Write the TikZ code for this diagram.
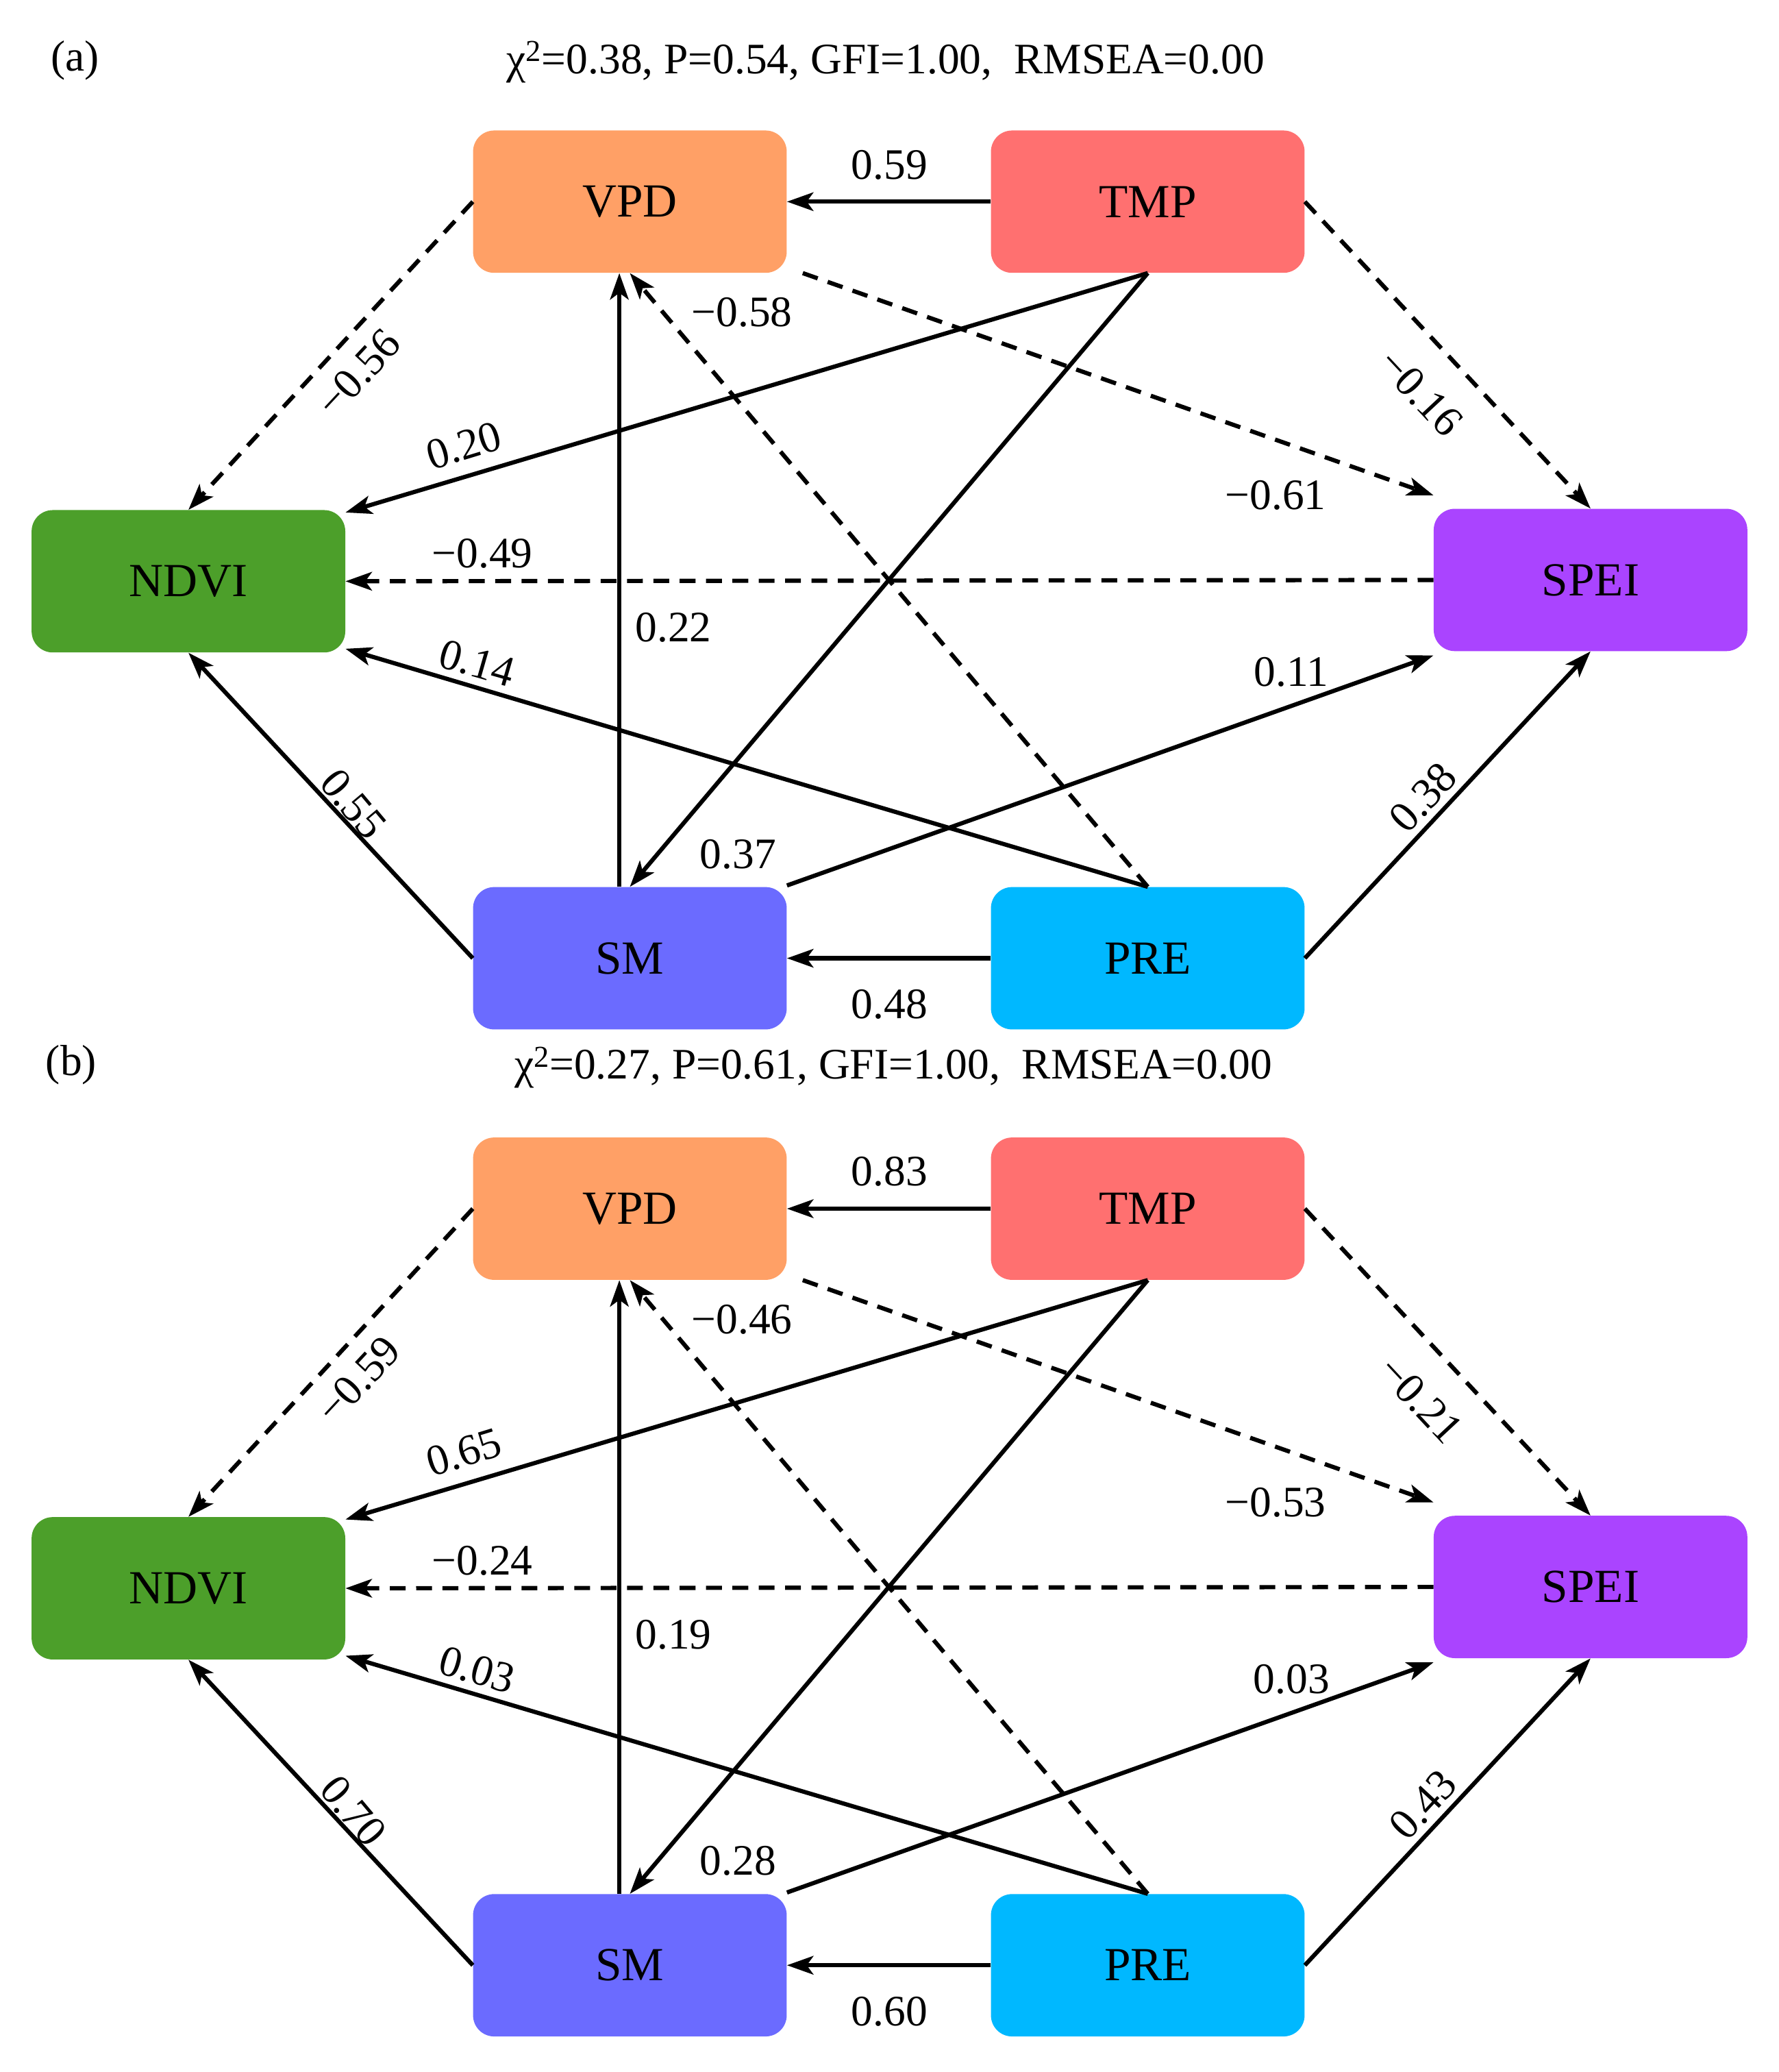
\documentclass[tikz,border=0pt]{standalone}
\usepackage{fontspec}
\setmainfont{Liberation Serif}
\usetikzlibrary{arrows.meta}
\definecolor{cvpd}{HTML}{FFA066}
\definecolor{ctmp}{HTML}{FF7070}
\definecolor{cndvi}{HTML}{4C9F2A}
\definecolor{cspei}{HTML}{AA44FF}
\definecolor{csm}{HTML}{6B6BFF}
\definecolor{cpre}{HTML}{00B8FF}
\tikzset{
  box/.style={rounded corners=16pt,minimum width=238pt,minimum height=108pt,inner sep=0pt,font=\fontsize{36}{40}\selectfont},
  arr/.style={line width=3.2pt,-{Stealth[length=20pt,width=14pt,inset=5pt]}},
  dsh/.style={arr,dash pattern=on 12pt off 8pt},
  lab/.style={font=\fontsize{33}{36}\selectfont,inner sep=1pt},
  ttl/.style={font=\fontsize{33}{36}\selectfont}
}
\newcommand\mypanel[2]{%
\begin{scope}[yshift=-#1pt]
\node[box,fill=cvpd] (#2vpd) at (478,-153) {VPD};
\node[box,fill=ctmp] (#2tmp) at (871,-153) {TMP};
\node[box,fill=cndvi] (#2ndvi) at (143,-441) {NDVI};
\node[box,fill=cspei] (#2spei) at (1207,-440) {SPEI};
\node[box,fill=csm] (#2sm) at (478,-727) {SM};
\node[box,fill=cpre] (#2pre) at (871,-727) {PRE};
\draw[arr] (#2tmp.west) -- (#2vpd.east);
\draw[dsh] (#2tmp.east) -- (#2spei.north);
\draw[dsh] (#2vpd.west) -- (#2ndvi.north);
\draw[dsh] ([xshift=12pt]#2vpd.south east) -- ([yshift=10pt]#2spei.north west);
\draw[arr] (#2tmp.south) -- ([yshift=-2pt]#2ndvi.north east);
\draw[arr] (#2tmp.south) -- (#2sm.north);
\draw[arr] ([xshift=-8pt]#2sm.north) -- ([xshift=-8pt]#2vpd.south);
\draw[dsh] (#2pre.north) -- (#2vpd.south);
\draw[dsh] (#2spei.west) -- (#2ndvi.east);
\draw[arr] (#2pre.north) -- ([yshift=3pt]#2ndvi.south east);
\draw[arr] ([yshift=1pt]#2sm.north east) -- ([yshift=-3pt]#2spei.south west);
\draw[arr] (#2sm.west) -- (#2ndvi.south);
\draw[arr] (#2pre.west) -- (#2sm.east);
\draw[arr] (#2pre.east) -- (#2spei.south);
\node[lab] (#2l1) at (675,-125) {\lA};
\node[lab,rotate=-47] (#2l2) at (1078,-298) {\lB};
\node[lab,rotate=47] (#2l3) at (272,-283) {\lC};
\node[lab] (#2l4) at (968,-376) {\lD};
\node[lab,rotate=17] (#2l5) at (352,-338) {\lE};
\node[lab] (#2l6) at (560,-648) {\lF};
\node[lab] (#2l7) at (511,-476) {\lG};
\node[lab] (#2l8) at (563,-237) {\lH};
\node[lab] (#2l9) at (366,-420) {\lI};
\node[lab,rotate=-16] (#2l10) at (362,-503) {\lJ};
\node[lab] (#2l11) at (980,-510) {\lK};
\node[lab,rotate=-50] (#2l12) at (268,-610) {\lL};
\node[lab] (#2l13) at (675,-762) {\lM};
\node[lab,rotate=47] (#2l14) at (1080,-605) {\lN};
\end{scope}}
\begin{document}
\begin{tikzpicture}[x=1pt,y=1pt]
\useasboundingbox (0,0) rectangle (1350,-1572);
\node[ttl] (ta) at (57,-46) {(a)};
\node[ttl] (sa) at (672,-47) {χ\textsuperscript{2}=0.38, P=0.54, GFI=1.00,\ \ RMSEA=0.00};
\node[ttl] (tb) at (54,-808) {(b)};
\node[ttl] (sb) at (678,-810) {χ\textsuperscript{2}=0.27, P=0.61, GFI=1.00,\ \ RMSEA=0.00};
\def\lA{0.59}\def\lB{−0.16}\def\lC{−0.56}\def\lD{−0.61}\def\lE{0.20}\def\lF{0.37}\def\lG{0.22}
\def\lH{−0.58}\def\lI{−0.49}\def\lJ{0.14}\def\lK{0.11}\def\lL{0.55}\def\lM{0.48}\def\lN{0.38}
\mypanel{0}{a}
\def\lA{0.83}\def\lB{−0.21}\def\lC{−0.59}\def\lD{−0.53}\def\lE{0.65}\def\lF{0.28}\def\lG{0.19}
\def\lH{−0.46}\def\lI{−0.24}\def\lJ{0.03}\def\lK{0.03}\def\lL{0.70}\def\lM{0.60}\def\lN{0.43}
\mypanel{764}{b}
\end{tikzpicture}
\end{document}
